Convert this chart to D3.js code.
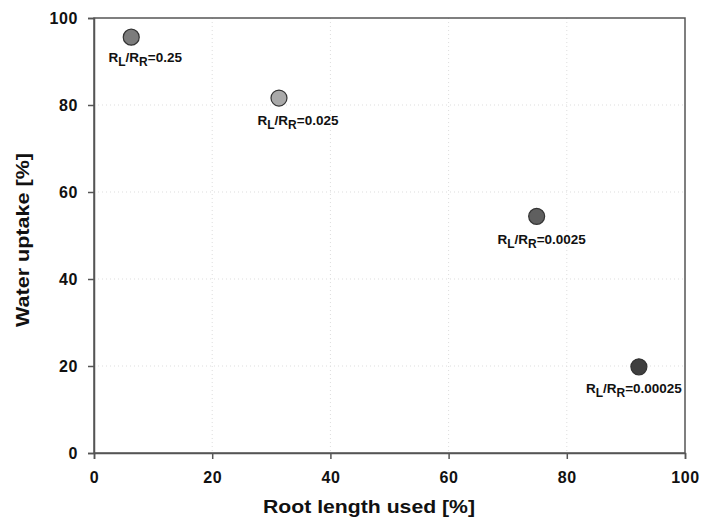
<!DOCTYPE html>
<html><head><meta charset="utf-8">
<script src="https://cdn.jsdelivr.net/npm/d3@7"></script>
<style>body{margin:0;background:#fff}svg{display:block}text{font-family:Arial,"Liberation Sans",sans-serif;font-weight:bold}</style>
</head><body>
<svg id="c" width="704" height="520"></svg>
<script>
const rootLength = [6.3, 31.3, 74.9, 92.2];
const waterUptake = [95.6, 81.6, 54.4, 19.8];
const ratioLabels = ["0.25", "0.025", "0.0025", "0.00025"];
const xTicks = [0, 20, 40, 60, 80, 100];
const yTicks = [0, 20, 40, 60, 80, 100];

const fills = ["#7c7c7c", "#a9a9a9", "#5f5f5f", "#3f3f3f"];
const labelDx = [14, 19, 5, -5];
const labelDy = [25, 27, 28, 26];

const svg = d3.select("#c");
const m = {l: 94, r: 685, t: 18, b: 453};
const x = d3.scaleLinear().domain([0, 100]).range([m.l, m.r]);
const y = d3.scaleLinear().domain([0, 100]).range([m.b, m.t]);

// grid
const g = svg.append("g");
g.selectAll(".gx").data(xTicks.slice(1, -1)).join("line")
  .attr("x1", d => x(d)).attr("x2", d => x(d)).attr("y1", m.t).attr("y2", m.b)
  .attr("stroke", "#ddd").attr("stroke-dasharray", "1,3");
g.selectAll(".gy").data(yTicks.slice(1, -1)).join("line")
  .attr("y1", d => y(d)).attr("y2", d => y(d)).attr("x1", m.l).attr("x2", m.r)
  .attr("stroke", "#ddd").attr("stroke-dasharray", "1,3");

// frame
svg.append("rect").attr("x", m.l).attr("y", m.t).attr("width", m.r - m.l).attr("height", m.b - m.t)
  .attr("fill", "none").attr("stroke", "#555").attr("stroke-width", 1.5);

const xa = svg.append("g").attr("transform", `translate(0,${m.b})`)
  .call(d3.axisBottom(x).tickValues(xTicks).tickSize(6).tickPadding(13));
const ya = svg.append("g").attr("transform", `translate(${m.l},0)`)
  .call(d3.axisLeft(y).tickValues(yTicks).tickSize(6).tickPadding(10));
[xa, ya].forEach(a => {
  a.select(".domain").attr("stroke", "#555").attr("stroke-width", 1.5);
  a.selectAll(".tick line").attr("stroke", "#555").attr("stroke-width", 1.5);
  a.selectAll(".tick text").attr("font-size", 16).attr("fill", "#111")
    .style("font-family", "Arial, 'Liberation Sans', sans-serif").style("font-weight", "bold")
    .style("letter-spacing", "0.6px");
});

// points
const pts = rootLength.map((d, i) => ({x: d, y: waterUptake[i], lab: ratioLabels[i], i}));
svg.selectAll("circle.p").data(pts).join("circle")
  .attr("cx", d => x(d.x)).attr("cy", d => y(d.y)).attr("r", 8)
  .attr("fill", d => fills[d.i]).attr("stroke", "#333").attr("stroke-width", 1.2);

// labels
const lt = svg.selectAll("text.lab").data(pts).join("text")
  .attr("x", d => x(d.x) + labelDx[d.i]).attr("y", d => y(d.y) + labelDy[d.i])
  .attr("text-anchor", "middle").attr("font-size", 13.5).attr("fill", "#111");
lt.append("tspan").text("R");
lt.append("tspan").text("L").attr("font-size", 12).attr("dy", 4);
lt.append("tspan").text("/R").attr("dy", -4);
lt.append("tspan").text("R").attr("font-size", 12).attr("dy", 4);
lt.append("tspan").text(d => "=" + d.lab).attr("dy", -4);

// axis titles
svg.append("text").attr("x", 369).attr("y", 513).attr("text-anchor", "middle")
  .attr("font-size", 18).attr("fill", "#111")
  .attr("textLength", 212).attr("lengthAdjust", "spacingAndGlyphs").text("Root length used [%]");
svg.append("text").attr("transform", "translate(29,240) rotate(-90)").attr("text-anchor", "middle")
  .attr("font-size", 18).attr("fill", "#111")
  .attr("textLength", 174).attr("lengthAdjust", "spacingAndGlyphs").text("Water uptake [%]");
</script>
</body></html>
